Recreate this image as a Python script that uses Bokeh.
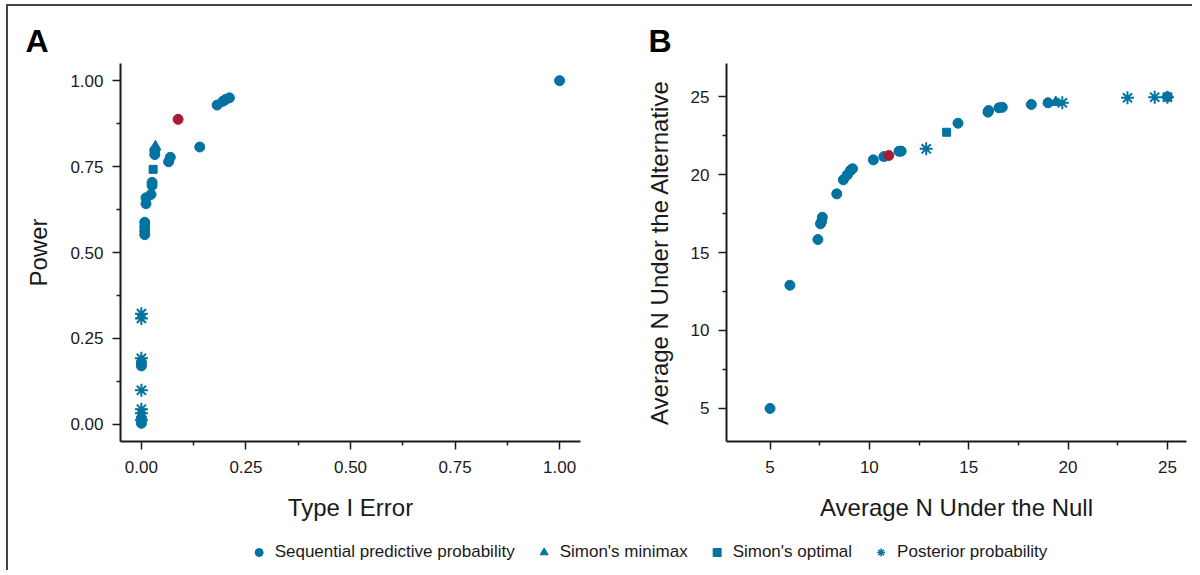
from bokeh.plotting import figure
from bokeh.models import (FixedTicker, NumeralTickFormatter, Range1d, Legend,
                          LegendItem)
from bokeh.layouts import column, row
from bokeh.embed import file_html
from bokeh.resources import INLINE

BLUE = "#0073A0"
RED = "#A51C36"
INK = "#1a1a1a"

# ---------------- Panel A: Type I error vs power ----------------
a_seq_type1 = [1.0, 0.181, 0.195, 0.201, 0.2105, 0.1395, 0.069, 0.065, 0.032, 0.032,
               0.0255, 0.0255, 0.023, 0.011, 0.011, 0.008, 0.008, 0.008, 0.008,
               0.0, 0.0, 0.0, 0.0]
a_seq_power = [1.0, 0.929, 0.940, 0.945, 0.950, 0.807, 0.777, 0.764, 0.797, 0.785,
               0.704, 0.695, 0.669, 0.659, 0.642, 0.588, 0.575, 0.563, 0.552,
               0.180, 0.170, 0.017, 0.003]
a_minimax_type1 = [0.0335]
a_minimax_power = [0.808]
a_optimal_type1 = [0.028]
a_optimal_power = [0.742]
a_post_type1 = [0.0, 0.0, 0.0, 0.0, 0.0, 0.0, 0.0]
a_post_power = [0.322, 0.308, 0.192, 0.099, 0.044, 0.032, 0.012]
a_sel_type1 = [0.0877]
a_sel_power = [0.8875]

a_ticks = [0.0, 0.25, 0.5, 0.75, 1.0]
a_minor = [0.125, 0.375, 0.625, 0.875]

# ---------------- Panel B: average N under null vs alternative ----------------
b_seq_null = [5.0, 6.0, 7.41, 7.54, 7.60, 7.63, 8.36, 8.69, 8.89, 9.05, 9.15, 10.2,
              10.73, 11.49, 11.6, 14.46, 15.97, 16.0, 16.52, 16.69, 18.15, 18.99, 25.0]
b_seq_alt = [5.0, 12.9, 15.83, 16.84, 17.0, 17.26, 18.76, 19.66, 19.98, 20.26, 20.37,
             20.94, 21.15, 21.49, 21.5, 23.29, 24.0, 24.1, 24.28, 24.31, 24.49, 24.6, 24.98]
b_minimax_null = [19.38]
b_minimax_alt = [24.63]
b_optimal_null = [13.89]
b_optimal_alt = [22.71]
b_post_null = [12.86, 19.71, 22.99, 24.36, 25.0]
b_post_alt = [21.65, 24.6, 24.92, 24.96, 24.96]
b_sel_null = [10.98]
b_sel_alt = [21.22]

b_ticks = [5, 10, 15, 20, 25]
b_minor = [7.5, 12.5, 17.5, 22.5]

legend_labels = ["Sequential predictive probability", "Simon's minimax",
                 "Simon's optimal", "Posterior probability"]

LABEL_FONT = "Liberation Sans"


def style(p, xt, xm, yt, ym, fmt):
    p.xaxis.ticker = FixedTicker(ticks=xt, minor_ticks=xm)
    p.yaxis.ticker = FixedTicker(ticks=yt, minor_ticks=ym)
    if fmt:
        p.xaxis.formatter = NumeralTickFormatter(format=fmt)
        p.yaxis.formatter = NumeralTickFormatter(format=fmt)
    p.grid.visible = False
    p.outline_line_color = None
    for ax in (p.xaxis, p.yaxis):
        ax.axis_line_color = INK
        ax.axis_line_width = 2
        ax.major_tick_line_color = INK
        ax.major_tick_line_width = 1.5
        ax.minor_tick_line_color = INK
        ax.minor_tick_line_width = 1.5
        ax.major_tick_out = 8
        ax.major_tick_in = 0
        ax.minor_tick_out = 4
        ax.minor_tick_in = 0
        ax.major_label_text_font = LABEL_FONT
        ax.major_label_text_font_size = "17px"
        ax.major_label_text_color = INK
        ax.axis_label_text_font = LABEL_FONT
        ax.axis_label_text_font_size = "24px"
        ax.axis_label_text_font_style = "normal"
        ax.axis_label_text_color = INK
    p.xaxis.major_label_standoff = 11
    p.yaxis.major_label_standoff = 9
    p.xaxis.axis_label_standoff = 18
    p.yaxis.axis_label_standoff = 15
    p.title.text_font = LABEL_FONT
    p.title.text_font_size = "32px"
    p.title.text_font_style = "bold"
    p.title.text_color = "black"
    p.title.align = "left"


def draw(p, seq, mm, op, po, sel):
    rs = [p.scatter(seq[0], seq[1], marker="circle", size=10, color=BLUE),
          p.scatter(mm[0], mm[1], marker="triangle", size=11, color=BLUE),
          p.scatter(op[0], op[1], marker="square", size=8, color=BLUE),
          p.scatter(po[0], po[1], marker="asterisk", size=13, line_color=BLUE, line_width=2)]
    p.scatter(sel[0], sel[1], marker="circle", size=10, color=RED)
    return rs


pa = figure(width=606, height=524, x_range=Range1d(-0.05, 1.05), y_range=Range1d(-0.05, 1.05),
            toolbar_location=None, output_backend="svg", title="A",
            min_border_left=112, min_border_right=34, min_border_top=57, min_border_bottom=89,
            x_axis_label="Type I Error", y_axis_label="Power")
style(pa, a_ticks, a_minor, a_ticks, a_minor, "0.00")
pa.title.offset = -95
draw(pa, (a_seq_type1, a_seq_power), (a_minimax_type1, a_minimax_power),
     (a_optimal_type1, a_optimal_power), (a_post_type1, a_post_power), (a_sel_type1, a_sel_power))

pb = figure(width=578, height=524, x_range=Range1d(2.81, 25.96), y_range=Range1d(2.88, 27.12),
            toolbar_location=None, output_backend="svg", title="B",
            min_border_left=112, min_border_right=6, min_border_top=57, min_border_bottom=89,
            x_axis_label="Average N Under the Null", y_axis_label="Average N Under the Alternative")
style(pb, b_ticks, b_minor, b_ticks, b_minor, None)
pb.title.offset = -78
draw(pb, (b_seq_null, b_seq_alt), (b_minimax_null, b_minimax_alt),
     (b_optimal_null, b_optimal_alt), (b_post_null, b_post_alt), (b_sel_null, b_sel_alt))

# ---------------- Shared legend (series drawn off-view, only the key shows) ----------------
lf = figure(width=1184, height=40, x_range=Range1d(-10, -9), y_range=Range1d(-10, -9),
            toolbar_location=None, output_backend="svg", x_axis_type=None, y_axis_type=None,
            min_border_left=96, min_border_right=0, min_border_top=4, min_border_bottom=0)
lf.grid.visible = False
lf.outline_line_color = None
lr = [lf.scatter(a_seq_type1, a_seq_power, marker="circle", color=BLUE),
      lf.scatter(a_minimax_type1, a_minimax_power, marker="triangle", color=BLUE),
      lf.scatter(a_optimal_type1, a_optimal_power, marker="square", color=BLUE),
      lf.scatter(a_post_type1, a_post_power, marker="asterisk", line_color=BLUE, line_width=1.5)]
legend = Legend(items=[LegendItem(label=lab, renderers=[r]) for lab, r in zip(legend_labels, lr)],
                orientation="horizontal", location="center",
                glyph_width=20, glyph_height=20, label_standoff=6, spacing=19,
                padding=0, margin=0, border_line_color=None, background_fill_alpha=0,
                label_text_font=LABEL_FONT, label_text_font_size="17px", label_text_color=INK)
lf.add_layout(legend, "center")

layout = column(row(pa, pb), lf,
                styles={"border-top": "2px solid #444", "border-left": "2px solid #444",
                        "margin-left": "6px", "margin-top": "4px"})

open("out.html", "w").write(file_html(layout, INLINE))
